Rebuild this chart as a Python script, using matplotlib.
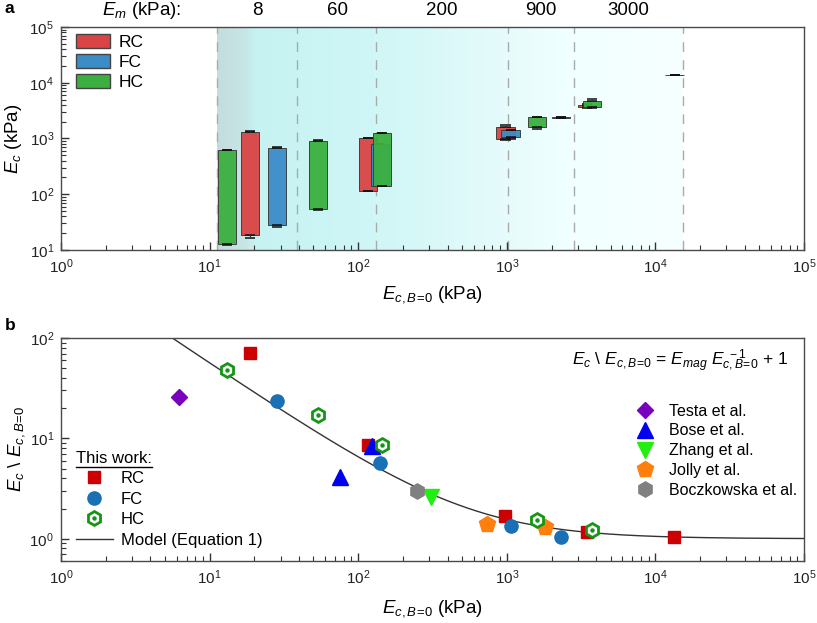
import numpy as np
import matplotlib
matplotlib.use("Agg")
import matplotlib.pyplot as plt
from matplotlib.colors import LinearSegmentedColormap
from matplotlib.patches import Patch
from matplotlib.lines import Line2D
from matplotlib.legend_handler import HandlerTuple

plt.rcParams['font.family'] = ['Liberation Sans', 'DejaVu Sans']
plt.rcParams['mathtext.fontset'] = 'custom'
plt.rcParams['mathtext.rm'] = 'Liberation Sans'
plt.rcParams['mathtext.it'] = 'Liberation Sans:italic'
plt.rcParams['mathtext.bf'] = 'Liberation Sans:bold'

# ---- panel a data: box plots (E_c vs E_c,B=0) ----
box_x = [13.1, 18.7, 28.4, 53.6, 116, 140, 145, 980, 1062, 1600, 2315, 3470, 3740, 13500]
box_q1 = [12.8, 18.6, 27.7, 53.6, 116, 142, 142, 966, 1064, 1606, 2340, 3620, 3720, 13550]
box_q3 = [617, 1290, 667, 910, 1000, 796, 1260, 1620, 1400, 2450, 2460, 4040, 4650, 13950]
box_lo = [12.4, 16.3, 25.8, 52.5, 115, 140, 140, 930, 1040, 1500, 2330, 3550, 3550, 13550]
box_hi = [625, 1340, 713, 925, 1005, 800, 1270, 1720, 1420, 2470, 2470, 4100, 5030, 13950]
box_grp = ['HC', 'RC', 'FC', 'HC', 'RC', 'FC', 'HC', 'RC', 'FC', 'HC', 'FC', 'RC', 'HC', 'RC']

# E_m group boundaries and labels
em_bounds = [11.2, 38.7, 132, 1019, 2832, 15350]
em_labels = ['8', '60', '200', '900', '3000']
em_label_x = [20.9, 72, 366, 1700, 6540]

# ---- panel b data: normalised modulus ----
rc_x = [18.7, 116, 977, 3450, 13340]
rc_y = [71.5, 8.6, 1.70, 1.17, 1.04]
fc_x = [28.3, 140, 1067, 2330]
fc_y = [23.6, 5.64, 1.33, 1.05]
hc_x = [13.1, 53.9, 145, 1597, 3724]
hc_y = [48.1, 17.0, 8.65, 1.54, 1.22]
testa_x, testa_y = [6.22], [25.9]
bose_x, bose_y = [75, 124.5], [4.15, 8.4]
zhang_x, zhang_y = [309], [2.62]
jolly_x, jolly_y = [739, 1807], [1.39, 1.32]
bocz_x, bocz_y = [247], [2.99]
E_mag = 555.0

colors = {'RC': '#d94444', 'FC': '#3c8cc8', 'HC': '#3bb040'}
red, blue, green = '#cc0000', '#1a70b4', '#149614'
sub = r'c,B\!=\!0'

fig = plt.figure(figsize=(8.17, 6.23), dpi=100)
ax1 = fig.add_axes([0.0747, 0.5987, 0.9094, 0.358])
ax2 = fig.add_axes([0.0747, 0.0995, 0.9094, 0.358])

for ax in (ax1, ax2):
    ax.set_xscale('log')
    ax.set_yscale('log')
    ax.set_xlim(1, 1e5)
    for s in ax.spines.values():
        s.set_color('#4a4a4a')
        s.set_linewidth(1.0)
    ax.tick_params(which='both', direction='in', top=False, right=False,
                   labelsize=11, colors='#333333', pad=5)
    ax.tick_params(which='major', length=6, width=1)
    ax.tick_params(which='minor', length=3.5, width=0.8)
    ax.tick_params(axis='x', labelcolor='#222222')
    ax.tick_params(axis='y', labelcolor='#222222')

# ---- panel a ----
ax1.set_ylim(10, 1e5)
cmap = LinearSegmentedColormap.from_list('bg', [
    (0.0, '#c4dcdc'), (0.06, '#c6e6e6'), (0.08, '#c6f2f2'),
    (0.35, '#d0f6f6'), (0.6, '#e4fafa'), (0.75, '#f0ffff'), (1.0, '#f6ffff')])
xe = np.logspace(np.log10(em_bounds[0]), np.log10(em_bounds[-1]), 300)
ax1.pcolormesh(xe, [10, 1e5], np.linspace(0, 1, len(xe) - 1)[None, :],
               cmap=cmap, shading='flat', zorder=0, rasterized=True)
for b in em_bounds:
    ax1.axvline(b, color='#aaaaaa', lw=1.0, ls=(0, (7, 6)), zorder=1)

hw = 0.0625  # half width in decades
for i, (x, q1, q3, lo, hi, g) in enumerate(zip(box_x, box_q1, box_q3, box_lo, box_hi, box_grp)):
    z = 3 + i * 0.1
    left, right = x * 10 ** -hw, x * 10 ** hw
    ax1.bar(left, q3 - q1, width=right - left, bottom=q1, align='edge',
            color=colors[g], edgecolor='#3a3a3a', linewidth=0.7, alpha=0.95, zorder=z)
    cl, cr = x * 10 ** (-hw * 0.55), x * 10 ** (hw * 0.55)
    ax1.hlines([lo, hi, q1, q3], [cl] * 4, [cr] * 4, colors='#111111', lw=1.1, zorder=z + 0.05)
    ax1.vlines([x, x], [lo, q3], [q1, hi], colors='#333333', lw=0.8, zorder=z + 0.05)

leg1 = ax1.legend(handles=[Patch(facecolor=colors[k], edgecolor='#444444', label=k)
                           for k in ['RC', 'FC', 'HC']],
                  loc='upper left', bbox_to_anchor=(0.0105, 1.0), frameon=False,
                  fontsize=12.5, handlelength=2.0, handleheight=0.85,
                  labelspacing=0.24, handletextpad=0.45, borderaxespad=0.0)

tr = ax1.get_xaxis_transform()
ax1.text(0.108, 1.072, r'$E_m$ (kPa):', transform=ax1.transAxes, ha='center',
         va='center', fontsize=13.5)
for xl, lab in zip(em_label_x, em_labels):
    ax1.text(xl, 1.072, lab, transform=tr, ha='center', va='center', fontsize=13.5)

ax1.set_xlabel(r'$E_{%s}$ (kPa)' % sub, fontsize=13.5, labelpad=6)
ax1.set_ylabel(r'$E_c$ (kPa)', fontsize=13.5, labelpad=4)

# ---- panel b ----
ax2.set_ylim(0.6, 100)
xm = np.logspace(0, 5, 400)
ax2.plot(xm, E_mag / xm + 1, color='#333333', lw=1.0, zorder=2)

ms = 9
h_rc, = ax2.plot(rc_x, rc_y, 's', color=red, ms=ms - 0.5, mec=red, ls='none', zorder=5)
h_fc, = ax2.plot(fc_x, fc_y, 'o', color=blue, ms=ms + 0.5, mec=blue, ls='none', zorder=5)
h_hc1, = ax2.plot(hc_x, hc_y, 'h', mfc='white', mec=green, mew=2.0, ms=ms + 1,
                  ls='none', zorder=6)
h_hc2, = ax2.plot(hc_x, hc_y, 'o', color=green, ms=2.2, ls='none', zorder=7)
h_te, = ax2.plot(testa_x, testa_y, 'D', color='#7a00bf', ms=ms - 1, ls='none', zorder=5)
h_bo, = ax2.plot(bose_x, bose_y, '^', color='#0000ee', ms=ms + 2, ls='none', zorder=5)
h_zh, = ax2.plot(zhang_x, zhang_y, 'v', color='#22ee11', ms=ms + 2, ls='none', zorder=5)
h_jo, = ax2.plot(jolly_x, jolly_y, 'p', color='#ff7f0e', ms=ms + 3, ls='none', zorder=5)
h_bc, = ax2.plot(bocz_x, bocz_y, 'h', color='#808080', ms=ms + 2, ls='none', zorder=5)
h_md = Line2D([], [], color='#333333', lw=1.0)

leg2 = ax2.legend([h_rc, h_fc, (h_hc1, h_hc2), h_md],
                  ['RC', 'FC', 'HC', 'Model (Equation 1)'],
                  handler_map={tuple: HandlerTuple(ndivide=1)},
                  title='This work:', alignment='left', title_fontsize=12,
                  loc='lower left', bbox_to_anchor=(0.002, 0.0), frameon=False,
                  fontsize=12, labelspacing=0.33, handlelength=2.2,
                  handletextpad=0.5, borderaxespad=0.4)
ax2.add_artist(leg2)
ax2.legend([h_te, h_bo, h_zh, h_jo, h_bc],
           ['Testa et al.', 'Bose et al.', 'Zhang et al.', 'Jolly et al.', 'Boczkowska et al.'],
           loc='upper left', bbox_to_anchor=(0.75, 0.77), frameon=False,
           fontsize=11.5, labelspacing=0.3, handlelength=1.6, handletextpad=0.7)

ax2.text(0.978, 0.9, r'$E_c$ \ $E_{%s}$ = $E_{mag}$ $E_{%s}^{\ -1}$ + 1' % (sub, sub),
         transform=ax2.transAxes, ha='right', va='center', fontsize=12.5)
ax2.set_xlabel(r'$E_{%s}$ (kPa)' % sub, fontsize=13.5, labelpad=8)
ax2.set_ylabel(r'$E_c$ \ $E_{%s}$' % sub, fontsize=13.5, labelpad=2)

fig.text(0.006, 0.987, 'a', fontsize=12.5, fontweight='bold', va='center')
fig.text(0.006, 0.478, 'b', fontsize=12.5, fontweight='bold', va='center')

# underline for legend title
fig.canvas.draw()
bb = leg2.get_title().get_window_extent()
fig.add_artist(Line2D([bb.x0, bb.x1], [bb.y0 - 1, bb.y0 - 1], transform=None,
                      color='black', lw=1.0))

fig.savefig('out.png', dpi=100)
